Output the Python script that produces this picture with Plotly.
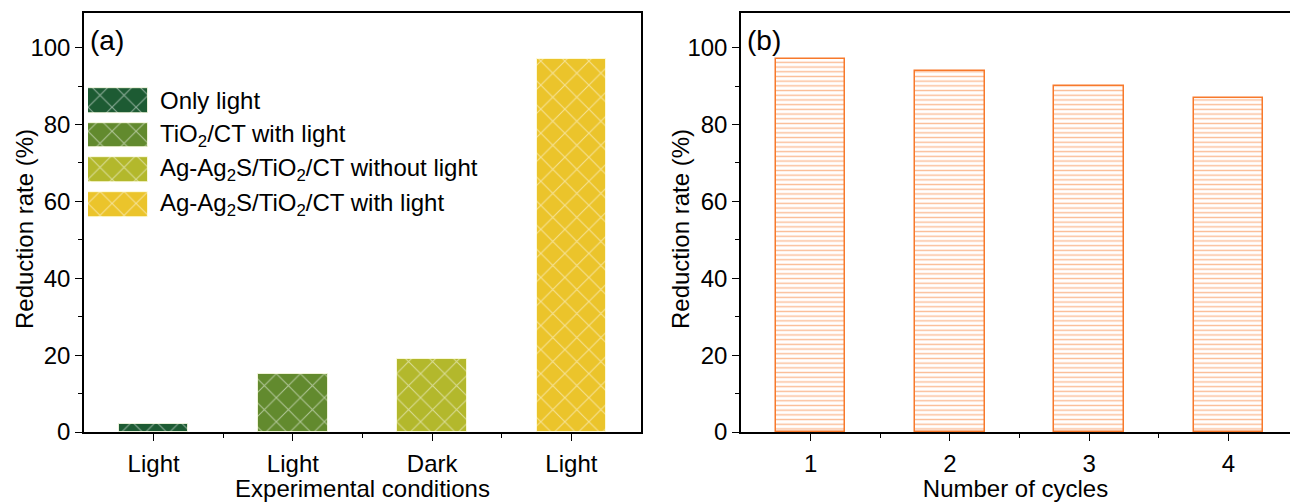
import plotly.graph_objects as go

# ---- data -------------------------------------------------------------
conditions = ["Light", "Light", "Dark", "Light"]
series_names = [
    "Only light",
    "TiO<sub>2</sub>/CT with light",
    "Ag-Ag<sub>2</sub>S/TiO<sub>2</sub>/CT without light",
    "Ag-Ag<sub>2</sub>S/TiO<sub>2</sub>/CT with light",
]
reduction_a = [2, 15, 19, 97]          # % reduction per condition
cycles = [1, 2, 3, 4]
reduction_b = [97, 94, 90, 87]         # % reduction per reuse cycle

# ---- styling ----------------------------------------------------------
greens = ["#1D5B33", "#628A2E", "#B3B82C", "#EBC42B"]
orange = "#F7792B"
FONT = "Liberation Sans, Arial, sans-serif"
FS = 24
W, H = 1290, 502
L, R, T, B = 84, 0, 13, 70
pw = W - L - R
ph = H - T - B


def px_x(x):
    return (x - L) / pw


def px_y(y):
    return (H - B - y) / ph


def wave_pattern(c):
    return dict(shape="x", fgcolor="white", bgcolor=c, size=17, solidity=0.12)


fig = go.Figure()

# panel (a): one bar per condition, each its own series
for i, (name, c) in enumerate(zip(series_names, greens)):
    fig.add_trace(go.Bar(
        x=[i + 1], y=[reduction_a[i]], width=0.5, name=name,
        marker=dict(color=c, pattern=wave_pattern(c),
                    line=dict(color="rgba(255,255,230,0.8)", width=1)),
        xaxis="x", yaxis="y", showlegend=False,
    ))

# panel (b): reuse cycles
fig.add_trace(go.Bar(
    x=cycles, y=reduction_b, width=0.5,
    marker=dict(color="white",
                pattern=dict(shape="-", fgcolor=orange, bgcolor="white",
                             size=4.7, solidity=0.3),
                line=dict(color=orange, width=1.5)),
    xaxis="x2", yaxis="y2", showlegend=False,
))

# legend swatches drawn on a small overlay axis so they can be large
for i, (name, c) in enumerate(zip(series_names, greens)):
    fig.add_trace(go.Bar(
        y=[i], x=[1], orientation="h", width=0.72,
        marker=dict(color=c, pattern=wave_pattern(c),
                    line=dict(color="rgba(255,255,230,0.8)", width=1)),
        xaxis="x3", yaxis="y3", showlegend=False, hoverinfo="skip",
    ))

sw_top, sw_bot = 83.2, 221.8
row_h = (sw_bot - sw_top) / len(series_names)
annotations = []
for i, name in enumerate(series_names):
    annotations.append(dict(
        text=name, xref="paper", yref="paper",
        x=px_x(158), y=px_y(sw_top + row_h * (i + 0.5)),
        xanchor="left", yanchor="middle", showarrow=False,
        font=dict(family=FONT, size=FS, color="black"),
    ))
annotations.append(dict(text="(a)", xref="paper", yref="paper",
                        x=px_x(88), y=px_y(40), xanchor="left", yanchor="middle",
                        showarrow=False, font=dict(family=FONT, size=28, color="black")))
annotations.append(dict(text="(b)", xref="paper", yref="paper",
                        x=px_x(745), y=px_y(40), xanchor="left", yanchor="middle",
                        showarrow=False, font=dict(family=FONT, size=28, color="black")))
# y-axis titles for both panels
for xc in (24, 680):
    annotations.append(dict(text="Reduction rate (%)", xref="paper", yref="paper",
                            x=px_x(xc), y=px_y(229), xanchor="center", yanchor="middle",
                            textangle=-90, showarrow=False,
                            font=dict(family=FONT, size=FS, color="black")))

ppu = (641 - L) / 4.0           # pixels per category unit
xb_end = 0.5 + (W - 741) / ppu

axis_common = dict(
    showline=True, linecolor="black", linewidth=1.5,
    ticks="outside", ticklen=7, tickwidth=1.3, tickcolor="black",
    showgrid=False, zeroline=False,
    tickfont=dict(family=FONT, size=FS, color="black"),
)
y_common = dict(axis_common, range=[0, 109], tickmode="linear", tick0=0, dtick=20,
                minor=dict(ticks="outside", ticklen=4, dtick=10, tickcolor="black",
                           tickwidth=1.3, showgrid=False),
                ticklabelstandoff=0)

fig.update_layout(
    width=W, height=H, margin=dict(l=L, r=R, t=T, b=B),
    paper_bgcolor="white", plot_bgcolor="white",
    barmode="overlay", bargap=0,
    font=dict(family=FONT, size=FS, color="black"),
    xaxis=dict(axis_common, domain=[0, px_x(641)], range=[0.5, 4.5], mirror=True,
               tickmode="array", tickvals=[1, 2, 3, 4], ticktext=conditions,
               ticklabelstandoff=2,
               minor=dict(ticks="outside", ticklen=4, tickvals=[1.5, 2.5, 3.5],
                          tickcolor="black", tickwidth=1.3),
               title=dict(text="Experimental conditions", standoff=1,
                          font=dict(family=FONT, size=FS, color="black"))),
    yaxis=dict(y_common, anchor="x", mirror=True),
    xaxis2=dict(axis_common, domain=[px_x(741), 1], range=[0.5, xb_end], mirror=True,
                anchor="y2", tickmode="array", tickvals=cycles,
                ticklabelstandoff=2,
                minor=dict(ticks="outside", ticklen=4, tickvals=[1.5, 2.5, 3.5],
                           tickcolor="black", tickwidth=1.3),
                title=dict(text="Number of cycles", standoff=1,
                           font=dict(family=FONT, size=FS, color="black"))),
    yaxis2=dict(y_common, anchor="x2", mirror=False),
    xaxis3=dict(domain=[px_x(88), px_x(148)], range=[0, 1], visible=False,
                anchor="y3", fixedrange=True),
    yaxis3=dict(domain=[px_y(sw_bot), px_y(sw_top)], range=[len(series_names) - 0.5, -0.5],
                visible=False, anchor="x3", fixedrange=True),
    annotations=annotations,
)

fig.write_html("out.html")
